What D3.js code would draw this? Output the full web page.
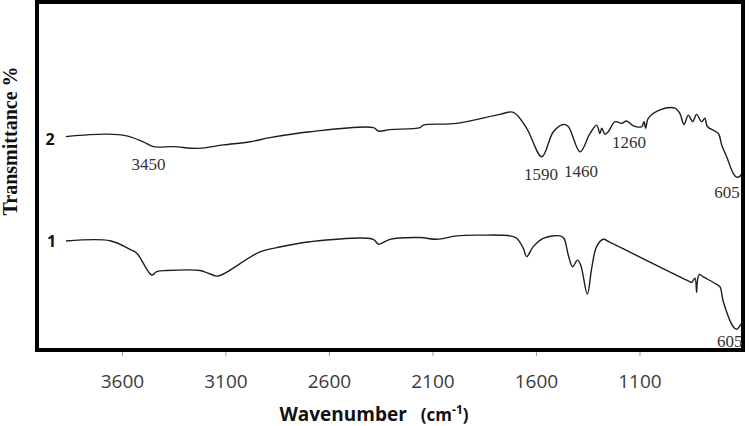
<!DOCTYPE html>
<html>
  <head>
    <script src="https://d3js.org/d3.v7.min.js"></script>
    <style>
      body { margin: 0; background: #fff; }
      svg { display: block; }
    </style>
  </head>
  <body>
    <svg id="chart" width="749" height="426"></svg>
    <script>
      // spectrum 2 (upper trace), wavenumber cm-1 and transmittance (arbitrary %)
      const wn2 = [3870, 3673, 3577, 3497, 3448, 3352, 3231, 3110, 2981, 2885, 2691, 2386, 2361, 2305,
        2160, 2144, 1983, 1774, 1709, 1645, 1572, 1516, 1468, 1444, 1387, 1339, 1307, 1291, 1282,
        1267, 1251, 1218, 1186, 1162, 1130, 1089, 1078, 1070, 1057, 1001, 928, 905, 885, 864, 843,
        824, 800, 784, 772, 719, 703, 679, 647, 631, 614, 603];
      const t2 = [61.5, 62.2, 61.7, 60.0, 58.6, 58.6, 58.1, 59.1, 60.0, 61.2, 62.9, 64.1, 63.1, 63.5,
        64.1, 64.8, 65.3, 67.9, 68.5, 63.9, 55.7, 62.9, 65.0, 64.4, 57.1, 62.4, 64.8, 62.4, 63.9,
        62.2, 62.9, 65.8, 65.3, 66.0, 64.6, 64.4, 65.8, 63.9, 66.8, 69.2, 69.7, 68.2, 65.0, 67.7, 65.8,
        67.9, 65.8, 66.8, 64.4, 62.4, 59.1, 55.7, 50.9, 49.8, 50.1, 51.4];

      // spectrum 1 (lower trace)
      const wn1 = [3870, 3657, 3561, 3528, 3456, 3432, 3384, 3223, 3190, 3142, 3110, 2933, 2852, 2691,
        2386, 2361, 2305, 2160, 2079, 1983, 1870, 1725, 1693, 1661, 1645, 1613, 1565, 1484, 1465,
        1444, 1423, 1400, 1384, 1352, 1331, 1307, 1275, 1242, 864, 848, 832, 824, 821, 811, 792,
        727, 711, 695, 647, 631, 607];
      const t1 = [31.4, 31.5, 29.0, 27.9, 21.6, 22.6, 22.9, 22.9, 22.3, 21.3, 21.9, 28.3, 29.5, 31.2,
        31.9, 30.5, 31.9, 32.4, 31.9, 32.9, 33.1, 32.9, 32.2, 29.3, 26.9, 29.8, 32.2, 32.9, 32.2,
        27.4, 24.0, 25.9, 24.5, 16.1, 23.5, 29.8, 31.9, 31.0, 19.9, 19.5, 20.7, 16.6, 19.5, 21.8, 21.1,
        18.9, 18.2, 13.9, 6.7, 6.0, 7.7];

      const xTicks = [3600, 3100, 2600, 2100, 1600, 1100];

      // peak annotations, placed in data units
      const peakText = ["3450", "1590", "1460", "1260", "605", "605"];
      const peakWn = [3471, 1576, 1382, 1151, 677, 664];
      const peakT = [51.9, 49.0, 49.9, 58.1, 43.7, 0.95];

      const seriesNames = ["2", "1"];
      const seriesWn = [3947, 3939];
      const seriesT = [59.1, 29.6];

      const svg = d3.select("#chart");
      const x = d3.scaleLinear().domain([4010, 600]).range([37, 743]);
      const y = d3.scaleLinear().domain([0, 100]).range([350, 3]);

      const line = d3.line()
        .curve(d3.curveCatmullRom.alpha(0.5))
        .x(d => x(d[0]))
        .y(d => y(d[1]));

      const spectra = [d3.zip(wn2, t2), d3.zip(wn1, t1)];
      svg.selectAll("path.trace").data(spectra)
        .join("path")
        .attr("class", "trace")
        .attr("d", line)
        .attr("fill", "none")
        .attr("stroke", "#1e1e1e")
        .attr("stroke-width", 1.4)
        .attr("stroke-linejoin", "round");

      // x axis ticks
      const xAxis = d3.axisBottom(x).tickValues(xTicks).tickSize(6).tickFormat(d3.format("d"));
      const gx = svg.append("g")
        .attr("transform", `translate(0,${y(0)})`)
        .call(xAxis);
      gx.select(".domain").remove();
      gx.selectAll(".tick line").attr("stroke", "#999").attr("stroke-width", 1);
      gx.selectAll(".tick text")
        .attr("y", 38)
        .attr("dy", 0)
        .attr("fill", "#3a3a3a")
        .style("font-family", "'Open Sans', sans-serif")
        .style("font-size", "19px");

      // frame
      svg.append("rect")
        .attr("x", x.range()[0])
        .attr("y", y.range()[1] - 1)
        .attr("width", x.range()[1] - x.range()[0])
        .attr("height", y.range()[0] - y.range()[1] + 1)
        .attr("fill", "none")
        .attr("stroke", "#000")
        .attr("stroke-width", 4);

      // peak labels
      svg.selectAll("text.peak").data(peakText)
        .join("text")
        .attr("class", "peak")
        .attr("x", (d, i) => x(peakWn[i]))
        .attr("y", (d, i) => y(peakT[i]))
        .attr("text-anchor", "middle")
        .attr("fill", "#333")
        .style("font-family", "'Liberation Serif', 'Times New Roman', serif")
        .style("font-size", "17px")
        .text(d => d);

      // trace numbers
      svg.selectAll("text.series").data(seriesNames)
        .join("text")
        .attr("class", "series")
        .attr("x", (d, i) => x(seriesWn[i]))
        .attr("y", (d, i) => y(seriesT[i]))
        .attr("text-anchor", "middle")
        .attr("fill", "#111")
        .style("font-family", "'Open Sans', sans-serif")
        .style("font-weight", "bold")
        .style("font-size", "16px")
        .text(d => d);

      // axis titles
      const xt = svg.append("text")
        .attr("x", 374)
        .attr("y", 421)
        .attr("text-anchor", "middle")
        .attr("fill", "#111")
        .style("font-family", "'Open Sans', sans-serif")
        .style("font-weight", "bold")
        .style("font-size", "19px");
      xt.append("tspan").text("Wavenumber");
      xt.append("tspan").attr("dx", 14).style("font-size", "17px").text("(cm");
      xt.append("tspan").attr("dy", -7).style("font-size", "12px").text("-1");
      xt.append("tspan").attr("dy", 7).style("font-size", "17px").text(")");

      svg.append("text")
        .attr("transform", "translate(17,141) rotate(-90)")
        .attr("text-anchor", "middle")
        .attr("fill", "#111")
        .style("font-family", "'Liberation Serif', 'Times New Roman', serif")
        .style("font-weight", "bold")
        .style("font-size", "20px")
        .text("Transmittance %");
    </script>
  </body>
</html>
